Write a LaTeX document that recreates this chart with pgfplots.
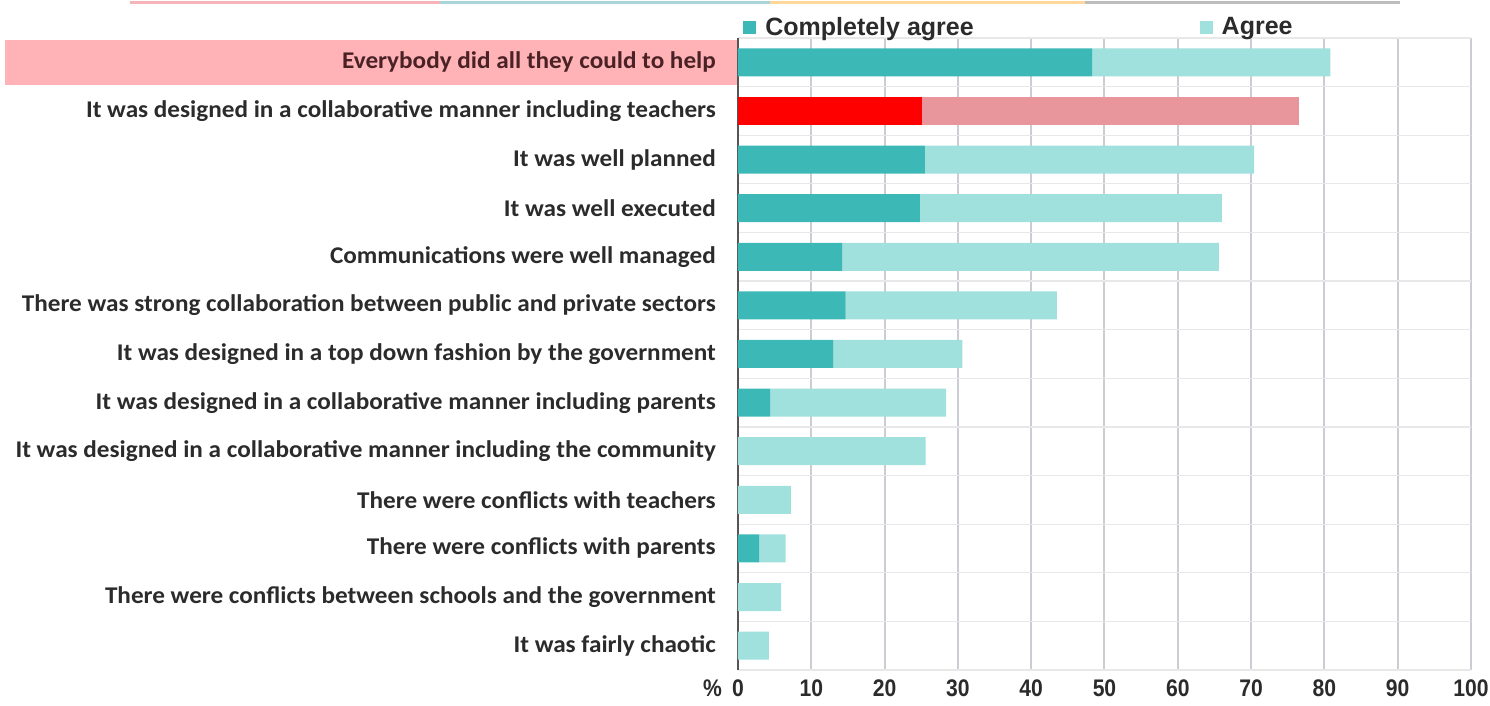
\documentclass[border=0pt]{standalone}
\usepackage{fontspec}
\setmainfont{Carlito}
\newfontfamily\labf[FakeStretch=1.05]{Carlito}
\newfontfamily\arialf{Liberation Sans}
\newfontfamily\tickf[FakeStretch=0.88]{Liberation Sans}
\usepackage{pgfplots}
\pgfplotsset{compat=1.18}
\definecolor{ca}{HTML}{3CB8B6}
\definecolor{ag}{HTML}{A0E0DD}
\definecolor{cared}{HTML}{FF0000}
\definecolor{agred}{HTML}{E8969B}
\definecolor{hl}{HTML}{FFB3B6}
\definecolor{tpink}{HTML}{F5B5B8}
\definecolor{tblue}{HTML}{A9D5DA}
\definecolor{tyel}{HTML}{FDD89A}
\definecolor{tgrey}{HTML}{BDBDBD}
\definecolor{gridv}{HTML}{CCCCD4}
\definecolor{gridh}{HTML}{E8E8E8}
\definecolor{axisc}{HTML}{555555}
\definecolor{textc}{HTML}{2B2B2B}
\definecolor{hltext}{HTML}{4A2226}
\begin{document}
\begin{tikzpicture}[x=1pt,y=1pt]
\useasboundingbox (-738,-36) rectangle (752,670);
\fill[hl] (-733,585) rectangle (0,630);
\draw[line width=3pt, tpink] (-608,667) -- (-298,667);
\draw[line width=3pt, tblue] (-298,667) -- (32,667);
\draw[line width=3pt, tyel] (32,667) -- (347,667);
\draw[line width=3pt, tgrey] (347,667) -- (662,667);
\begin{axis}[
  at={(0,0)}, anchor=south west,
  scale only axis, width=733pt, height=632pt,
  xbar stacked, bar width=28pt,
  xmin=0, xmax=100, ymin=-0.5, ymax=12.5,
  xtick={0,10,...,100},
  ytick={0,...,12},
  yticklabels={It was fairly chaotic,
    There were conflicts between schools and the government,
    There were conflicts with parents,
    There were conflicts with teachers,
    It was designed in a collaborative manner including the community,
    It was designed in a collaborative manner including parents,
    It was designed in a top down fashion by the government,
    There was strong collaboration between public and private sectors,
    Communications were well managed,
    It was well executed,
    It was well planned,
    It was designed in a collaborative manner including teachers,
    \textcolor{hltext}{Everybody did all they could to help}},
  minor ytick={-0.5,0.5,...,12.5},
  xmajorgrids, yminorgrids,
  major grid style={color=gridv, line width=2pt},
  minor grid style={color=gridh, line width=1.2pt},
  axis line style={draw=none},
  major tick length=0pt, minor tick length=0pt,
  tick style={draw=none},
  /pgf/number format/assume math mode=true,
  yticklabel style={font=\labf\bfseries\fontsize{24}{28}\selectfont, text=textc, inner sep=0pt, xshift=-22pt, anchor=east},
  xticklabel style={font=\tickf\bfseries\fontsize{24}{28}\selectfont, text=textc, inner sep=0pt, yshift=-10pt, anchor=north},
  legend style={at={(0.007,1.0174)}, anchor=west, draw=none, fill=none,
    font=\arialf\bfseries\fontsize{25}{28}\selectfont, text=textc, inner sep=0pt,
    /tikz/every odd column/.append style={column sep=7pt},
    /tikz/every even column/.append style={column sep=224pt}},
  legend columns=2,
  clip=false,
]
\addplot[fill=ca, draw=none, legend image code/.code={\fill[ca] (0pt,-7pt) rectangle (13pt,6pt);}] coordinates {
  (0,0) (0,1) (2.9,2) (0,3) (0,4) (4.4,5) (13.0,6) (14.7,7) (14.2,8) (24.8,9) (25.5,10) (0,11) (48.3,12)};
\addlegendentry{Completely agree}
\addplot[fill=ag, draw=none, legend image code/.code={\fill[ag] (0pt,-7pt) rectangle (13pt,6pt);}] coordinates {
  (4.2,0) (5.9,1) (3.6,2) (7.2,3) (25.6,4) (24.0,5) (17.6,6) (28.8,7) (51.4,8) (41.2,9) (44.9,10) (0,11) (32.5,12)};
\addlegendentry{Agree}
\addplot[fill=cared, draw=none] coordinates {
  (0,0) (0,1) (0,2) (0,3) (0,4) (0,5) (0,6) (0,7) (0,8) (0,9) (0,10) (25.1,11) (0,12)};
\addplot[fill=agred, draw=none] coordinates {
  (0,0) (0,1) (0,2) (0,3) (0,4) (0,5) (0,6) (0,7) (0,8) (0,9) (0,10) (51.4,11) (0,12)};
\draw[line width=2.5pt, axisc] (axis cs:0,-0.5) -- (axis cs:0,12.5);
\end{axis}
\node[anchor=north east, inner sep=0pt, font=\tickf\bfseries\fontsize{24}{28}\selectfont, text=textc] at (-16,-10) {\%};
\end{tikzpicture}
\end{document}
